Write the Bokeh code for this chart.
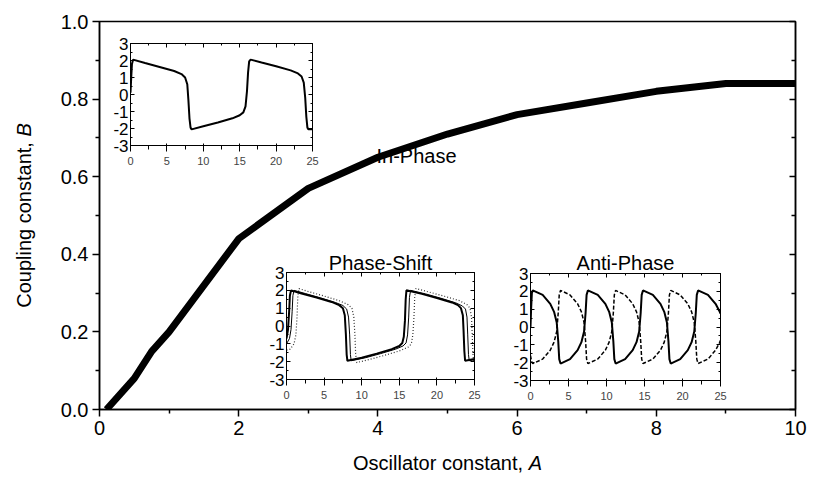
import math

from bokeh.plotting import figure
from bokeh.models import FixedTicker, LinearAxis, Range1d, Label, NumeralTickFormatter
from bokeh.embed import file_html
from bokeh.resources import INLINE

FONT = "Liberation Sans"

# ---- main diagram: regime boundary in the (A, B) plane ----
osc_A = [0.1, 0.5, 0.75, 1.0, 2.0, 3.0, 4.0, 5.0, 6.0, 7.0, 8.0, 9.0, 10.0]
coup_B = [0.0, 0.08, 0.15, 0.20, 0.44, 0.57, 0.65, 0.71, 0.76, 0.79, 0.82, 0.84, 0.84]

main_x_ticks = [0, 2, 4, 6, 8, 10]
main_x_minor = [1, 3, 5, 7, 9]
main_y_ticks = [0.0, 0.2, 0.4, 0.6, 0.8, 1.0]
main_y_minor = [0.1, 0.3, 0.5, 0.7, 0.9]

# ---- inset time series (time, signal) ----
inset_x_ticks = [0, 5, 10, 15, 20, 25]
inset_x_minor = [2.5, 7.5, 12.5, 17.5, 22.5]
inset_y_ticks = [-3, -2, -1, 0, 1, 2, 3]
inset_y_minor = [-2.5, -1.5, -0.5, 0.5, 1.5, 2.5]

# in-phase: both oscillators coincide
inphase_t = [0, 0.1, 0.2, 0.35, 2, 4, 6, 7, 7.5, 7.8, 7.95, 8.1, 8.25, 8.4,
             10, 12, 14, 15, 15.5, 15.8, 16.0, 16.15, 16.3, 16.5,
             18, 20, 22, 23, 23.5, 23.8, 24.0, 24.15, 24.3, 24.45, 25]
inphase_v = [0.1, 1.0, 1.8, 2.05, 1.85, 1.62, 1.38, 1.2, 1.0, 0.6, -0.3, -1.4, -1.95, -2.05,
             -1.87, -1.65, -1.4, -1.22, -1.05, -0.7, 0.2, 1.3, 1.95, 2.05,
             1.88, 1.66, 1.42, 1.24, 1.06, 0.7, -0.2, -1.3, -1.95, -2.05, -2.05]

# phase-shift: three oscillators lagging one another
shift_lead_t = [0, 0.2, 0.35, 0.45, 0.6, 2, 4, 6, 7, 7.5, 7.75, 7.9, 8.0, 8.1,
                10, 12, 14, 15, 15.4, 15.6, 15.75, 15.85, 15.95,
                18, 20, 22, 22.8, 23.2, 23.45, 23.55, 23.65, 23.75, 25]
shift_lead_v = [-0.7, -0.2, 0.8, 1.7, 2.0, 1.82, 1.6, 1.35, 1.17, 1.0, 0.6, -0.5, -1.6, -1.95,
                -1.78, -1.55, -1.3, -1.12, -0.95, -0.6, 0.3, 1.5, 2.0,
                1.8, 1.57, 1.32, 1.17, 1.0, 0.6, -0.3, -1.4, -1.95, -1.85]

shift_mid_t = [0, 0.4, 0.6, 0.75, 0.85, 1.0, 2.5, 4.5, 6.5, 7.5, 8.0, 8.25, 8.4, 8.5, 8.6,
               10.5, 12.5, 14.5, 15.5, 15.9, 16.1, 16.25, 16.35, 16.5,
               18.5, 20.5, 22.5, 23.4, 23.8, 24.0, 24.1, 24.2, 24.3, 25]
shift_mid_v = [-1.0, -0.7, -0.2, 0.8, 1.7, 2.0, 1.82, 1.58, 1.32, 1.15, 0.95, 0.5, -0.5, -1.6, -1.95,
               -1.78, -1.55, -1.3, -1.12, -0.95, -0.5, 0.5, 1.6, 2.0,
               1.8, 1.56, 1.3, 1.12, 0.95, 0.5, -0.5, -1.6, -1.95, -1.88]

shift_lag_t = [0, 0.5, 1.0, 1.25, 1.4, 1.5, 1.65, 3, 5, 7, 8.2, 8.7, 8.95, 9.1, 9.2, 9.35,
               11, 13, 15, 16.2, 16.6, 16.8, 16.95, 17.05, 17.2,
               19, 21, 23, 24, 24.4, 24.6, 24.7, 24.8, 24.9, 25]
shift_lag_v = [-1.35, -1.3, -1.0, -0.5, 0.5, 1.6, 2.1, 1.92, 1.68, 1.42, 1.2, 1.0, 0.5, -0.5, -1.6, -2.05,
               -1.88, -1.65, -1.4, -1.18, -1.0, -0.5, 0.5, 1.6, 2.1,
               1.9, 1.67, 1.42, 1.2, 1.0, 0.5, -0.5, -1.6, -2.05, -2.0]

# anti-phase: the two oscillators alternate
anti_a_t = [0.0, 0.08, 0.18, 0.3, 1.6, 2.6, 3.1, 3.45, 3.65, 3.78, 3.95,
            5.2, 6.2, 6.7, 7.05, 7.25, 7.38, 7.55,
            8.85, 9.85, 10.35, 10.7, 10.9, 11.03, 11.2,
            12.45, 13.45, 13.95, 14.3, 14.5, 14.63, 14.8,
            16.1, 17.1, 17.6, 17.95, 18.15, 18.28, 18.45,
            19.7, 20.7, 21.2, 21.55, 21.75, 21.88, 22.05,
            23.35, 24.35, 24.85, 25.0]
anti_a_v = [0.0, 1.0, 1.9, 2.05, 1.8, 1.3, 0.85, 0.25, -0.8, -1.8, -2.05,
            -1.8, -1.3, -0.85, -0.25, 0.8, 1.8, 2.05,
            1.8, 1.3, 0.85, 0.25, -0.8, -1.8, -2.05,
            -1.8, -1.3, -0.85, -0.25, 0.8, 1.8, 2.05,
            1.8, 1.3, 0.85, 0.25, -0.8, -1.8, -2.05,
            -1.8, -1.3, -0.85, -0.25, 0.8, 1.8, 2.05,
            1.8, 1.3, 0.9, 0.75]

anti_b_t = [0.0, 0.15, 0.3, 1.6, 2.6, 3.1, 3.45, 3.65, 3.78, 3.95,
            5.2, 6.2, 6.7, 7.05, 7.25, 7.38, 7.55,
            8.85, 9.85, 10.35, 10.7, 10.9, 11.03, 11.2,
            12.45, 13.45, 13.95, 14.3, 14.5, 14.63, 14.8,
            16.1, 17.1, 17.6, 17.95, 18.15, 18.28, 18.45,
            19.7, 20.7, 21.2, 21.55, 21.75, 21.88, 22.05,
            23.35, 24.35, 24.85, 25.0]
anti_b_v = [-1.6, -1.95, -2.05, -1.8, -1.3, -0.85, -0.25, 0.8, 1.8, 2.05,
            1.8, 1.3, 0.85, 0.25, -0.8, -1.8, -2.05,
            -1.8, -1.3, -0.85, -0.25, 0.8, 1.8, 2.05,
            1.8, 1.3, 0.85, 0.25, -0.8, -1.8, -2.05,
            -1.8, -1.3, -0.85, -0.25, 0.8, 1.8, 2.05,
            1.8, 1.3, 0.85, 0.25, -0.8, -1.8, -2.05,
            -1.8, -1.3, -0.9, -0.75]

# ---- geometry of the main frame (pixels) ----
W, H = 814, 480
LEFT, RIGHT, TOP, BOTTOM = 99, 795, 21, 409
X0, X1, Y0, Y1 = 0.0, 10.0, 0.0, 1.0


def px_to_x(px):
    return X0 + (px - LEFT) * (X1 - X0) / (RIGHT - LEFT)


def py_to_y(py):
    return Y0 + (BOTTOM - py) * (Y1 - Y0) / (BOTTOM - TOP)


TICK_PX = "20px"
LABEL_SIZE = 20
TEXT_PX = "20px"

p = figure(width=W, height=H, x_range=Range1d(X0, X1), y_range=Range1d(Y0, Y1),
           output_backend="svg", toolbar_location=None,
           min_border_left=LEFT, min_border_right=W - RIGHT,
           min_border_top=TOP, min_border_bottom=H - BOTTOM)
p.grid.visible = False
p.background_fill_color = "white"
p.border_fill_color = "white"
p.outline_line_color = "black"
p.outline_line_width = 1.5

p.xaxis.ticker = FixedTicker(ticks=main_x_ticks, minor_ticks=main_x_minor)
p.yaxis.ticker = FixedTicker(ticks=main_y_ticks, minor_ticks=main_y_minor)
p.yaxis.formatter = NumeralTickFormatter(format="0.0")

right_ax = LinearAxis(ticker=FixedTicker(ticks=main_y_ticks, minor_ticks=main_y_minor))
p.add_layout(right_ax, "right")

for ax in (p.xaxis[0], p.yaxis[0], right_ax):
    ax.axis_line_color = "black"
    ax.axis_line_width = 1.5
    ax.major_tick_line_width = 1.5
    ax.minor_tick_line_width = 1.5
    ax.major_label_text_font = FONT
    ax.major_label_text_font_size = TICK_PX
    ax.major_label_text_color = "black"

for ax in (p.xaxis[0], p.yaxis[0]):
    ax.major_tick_out = 7
    ax.major_tick_in = 0
    ax.minor_tick_out = 4
    ax.minor_tick_in = 0
    ax.major_label_standoff = 4

right_ax.major_tick_out = 0
right_ax.major_tick_in = 6
right_ax.minor_tick_out = 0
right_ax.minor_tick_in = 4
right_ax.major_label_text_font_size = "2px"
right_ax.major_label_text_color = None

p.line(osc_A, coup_B, line_color="black", line_width=7)

# regime names
for name, cx, base in (("In-Phase", 416, 155),
                       ("Phase-Shift", 380, 262),
                       ("Anti-Phase", 625, 262)):
    p.add_layout(Label(x=px_to_x(cx), y=py_to_y(base), text=name, text_font=FONT,
                       text_font_size=TEXT_PX, text_color="black",
                       text_align="center", text_baseline="alphabetic"))

# ---- transparent text layer for the axis titles (italic symbols) ----
overlay = figure(width=W, height=H, x_range=Range1d(0, W), y_range=Range1d(H, 0),
                 x_axis_type=None, y_axis_type=None,
                 output_backend="svg", toolbar_location=None, min_border=0,
                 styles={"position": "absolute", "left": "0px", "top": "0px"})
overlay.grid.visible = False
overlay.background_fill_color = None
overlay.border_fill_color = None
overlay.outline_line_color = None

# advance widths (em) of the upright part of each title, Arial metrics
XLABEL_EM, YLABEL_EM, SYM_EM = 8.781, 8.560, 0.667
xl_total = (XLABEL_EM + SYM_EM) * LABEL_SIZE
xl_start = (LEFT + RIGHT) / 2 - xl_total / 2
xl_base = 462
yl_total = (YLABEL_EM + SYM_EM) * LABEL_SIZE
yl_start = (TOP + BOTTOM) / 2 + yl_total / 2
yl_mid = 23

title_style = dict(text_font=FONT, text_font_size=f"{LABEL_SIZE}px", text_color="black")
overlay.add_layout(Label(x=xl_start, y=xl_base, text="Oscillator constant,",
                         text_align="left", text_baseline="alphabetic", **title_style))
overlay.add_layout(Label(x=xl_start + XLABEL_EM * LABEL_SIZE, y=xl_base, text="A",
                         text_font_style="italic", text_align="left",
                         text_baseline="alphabetic", **title_style))
overlay.add_layout(Label(x=yl_mid, y=yl_start, text="Coupling constant,", angle=math.pi / 2,
                         text_align="left", text_baseline="middle", **title_style))
overlay.add_layout(Label(x=yl_mid, y=yl_start - YLABEL_EM * LABEL_SIZE, text="B",
                         angle=math.pi / 2, text_font_style="italic",
                         text_align="left", text_baseline="middle", **title_style))


def make_inset(frame_left, frame_top, frame_w, frame_h):
    bl, br, bt, bb = 30, 12, 10, 24
    f = figure(width=bl + frame_w + br, height=bt + frame_h + bb,
               x_range=Range1d(0, 25), y_range=Range1d(-3, 3),
               output_backend="svg", toolbar_location=None,
               min_border_left=bl, min_border_right=br,
               min_border_top=bt, min_border_bottom=bb,
               styles={"position": "absolute",
                       "left": f"{frame_left - bl}px",
                       "top": f"{frame_top - bt}px"})
    f.grid.visible = False
    f.background_fill_color = "white"
    f.border_fill_color = None
    f.outline_line_color = "black"
    f.outline_line_width = 1
    f.xaxis.ticker = FixedTicker(ticks=inset_x_ticks, minor_ticks=inset_x_minor)
    f.yaxis.ticker = FixedTicker(ticks=inset_y_ticks, minor_ticks=inset_y_minor)
    f.xaxis.formatter = NumeralTickFormatter(format="0")
    f.yaxis.formatter = NumeralTickFormatter(format="0")
    top_ax = LinearAxis(ticker=FixedTicker(ticks=inset_x_ticks, minor_ticks=inset_x_minor))
    rgt_ax = LinearAxis(ticker=FixedTicker(ticks=inset_y_ticks, minor_ticks=inset_y_minor))
    f.add_layout(top_ax, "above")
    f.add_layout(rgt_ax, "right")
    for ax in (f.xaxis[0], f.yaxis[0], top_ax, rgt_ax):
        ax.axis_line_color = "black"
        ax.axis_line_width = 1
        ax.major_tick_in = 4
        ax.major_tick_out = 0
        ax.minor_tick_in = 2
        ax.minor_tick_out = 0
        ax.major_label_standoff = 2
        ax.major_label_text_font = FONT
        ax.major_label_text_font_size = "17px"
        ax.major_label_text_color = "black"
    for ax in (top_ax, rgt_ax):
        ax.major_label_text_font_size = "2px"
        ax.major_label_text_color = None
    return f


ins1 = make_inset(130, 43, 182, 102)
ins1.line(inphase_t, inphase_v, line_color="black", line_width=2)

ins2 = make_inset(286, 272, 188, 107)
ins2.line(shift_lag_t, shift_lag_v, line_color="#333333", line_width=1.2, line_dash="1 2")
ins2.line(shift_mid_t, shift_mid_v, line_color="black", line_width=1)
ins2.line(shift_lead_t, shift_lead_v, line_color="black", line_width=2)

ins3 = make_inset(530, 273, 190, 107)
ins3.line(anti_b_t, anti_b_v, line_color="black", line_width=1.5, line_dash="4 2")
ins3.line(anti_a_t, anti_a_v, line_color="black", line_width=2)

open("out.html", "w").write(file_html([p, overlay, ins1, ins2, ins3], INLINE))
